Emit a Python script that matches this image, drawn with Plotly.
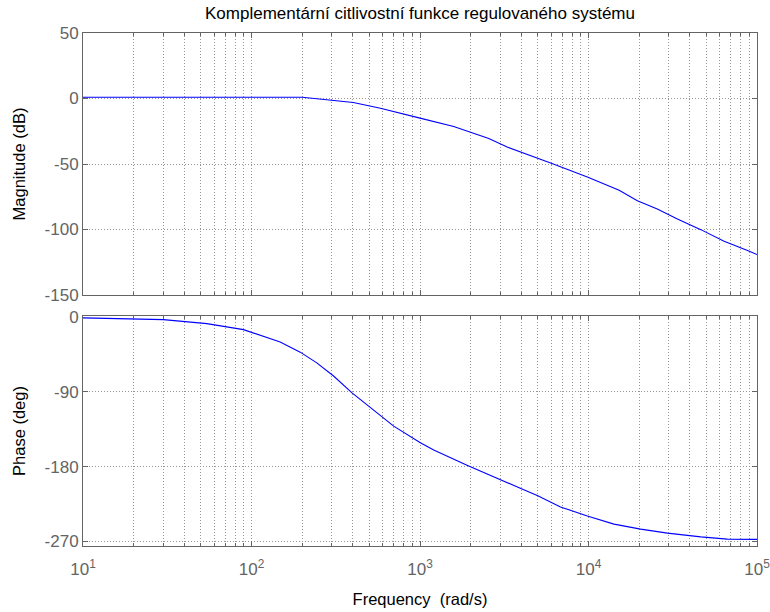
import plotly.graph_objects as go

# ---- data ----
mag_freq = [10, 200, 402, 582, 1000, 1585, 2560, 3290, 5960, 9840, 15200,
            19500, 25600, 33700, 46400, 63800, 87900, 100000]
mag_db = [1.0, 1.0, -3.1, -7.4, -15.0, -21.4, -30.6, -37.1, -49.3, -59.9, -70.1,
          -78.0, -84.3, -91.9, -100.1, -109.0, -116.1, -119.1]

ph_freq = [10, 19.9, 30, 54.3, 89.6, 148, 194.6, 244, 307, 395, 507, 698, 1005,
           1206, 1901, 2936, 4000, 5000, 6820, 9840, 14160, 20400, 29400, 46400,
           66700, 100000]
ph_deg = [-1.0, -2.0, -3.2, -8.0, -15.2, -30.0, -42.3, -55.2, -71.0, -91.2, -109.2,
          -131.3, -151.2, -160.1, -178.4, -194.4, -206.6, -215.0, -228.5, -239.3,
          -249.2, -255.2, -260.0, -264.5, -267.2, -267.5]

x_major = [10, 100, 1000, 10000, 100000]
x_major_text = ["10<sup>1</sup>", "10<sup>2</sup>", "10<sup>3</sup>",
                "10<sup>4</sup>", "10<sup>5</sup>"]
x_minor = [m * d for d in [10, 100, 1000, 10000] for m in range(2, 10)]

mag_ticks = [50, 0, -50, -100, -150]
mag_ticktext = ["50", "0", "-50", "-100", "-150"]
ph_ticks = [0, -90, -180, -270]
ph_ticktext = ["0", "-90", "-180", "-270"]

title_text = "Komplementární citlivostní funkce regulovaného systému"

FONT = "Liberation Sans, Arial, sans-serif"
AX = "rgb(100,100,100)"
GRID = "rgb(150,150,150)"
DOT = "1px,2px"

fig = go.Figure()
fig.add_trace(go.Scatter(x=mag_freq, y=mag_db, mode="lines",
                         line=dict(color="rgb(0,0,255)", width=1.1),
                         xaxis="x", yaxis="y", showlegend=False))
fig.add_trace(go.Scatter(x=ph_freq, y=ph_deg, mode="lines",
                         line=dict(color="rgb(0,0,255)", width=1.1),
                         xaxis="x2", yaxis="y2", showlegend=False))

H = 612
top, bottom = 33, 66
plot_h = H - top - bottom
mag_dom = [(546 - 295) / plot_h, 1.0]
ph_dom = [0.0, (546 - 316) / plot_h]

xcommon = dict(type="log", range=[1, 5], tickmode="array", tickvals=x_major,
               ticktext=x_major_text, showline=True, linecolor=AX, linewidth=1,
               mirror="ticks", ticks="inside", ticklen=5, tickcolor=AX,
               showgrid=True, gridcolor=GRID, griddash=DOT, gridwidth=1,
               zeroline=False, automargin=False, ticklabeloverflow="allow",
               minor=dict(tickmode="array", tickvals=x_minor, ticks="inside",
                          ticklen=3, tickcolor=AX, showgrid=True,
                          gridcolor=GRID, griddash=DOT, gridwidth=1),
               tickfont=dict(family=FONT, size=17, color=AX))

ycommon = dict(showline=True, linecolor=AX, linewidth=1, mirror="ticks",
               ticks="inside", ticklen=5, tickcolor=AX, showgrid=True,
               gridcolor=GRID, griddash=DOT, zeroline=False, automargin=False,
               tickmode="array", tickfont=dict(family=FONT, size=17, color=AX))

fig.update_layout(
    width=770, height=612,
    margin=dict(l=83, r=13, t=top, b=bottom),
    plot_bgcolor="white", paper_bgcolor="white",
    title=dict(text=title_text, x=0.5, xref="paper", y=1 - 13 / H,
               yanchor="middle", xanchor="center",
               font=dict(family=FONT, size=17, color="black")),
    xaxis=dict(**xcommon, anchor="y", showticklabels=False),
    xaxis2=dict(**xcommon, anchor="y2", showticklabels=True,
                ticklabelstandoff=8,
                title=dict(text="Frequency  (rad/s)", standoff=15,
                           font=dict(family=FONT, size=16.5, color="black"))),
    yaxis=dict(**ycommon, domain=mag_dom, range=[-150, 50],
               tickvals=mag_ticks, ticktext=mag_ticktext, anchor="x",
               title=dict(text="Magnitude (dB)", standoff=14,
                          font=dict(family=FONT, size=16.5, color="black"))),
    yaxis2=dict(**ycommon, domain=ph_dom, range=[-275.5, 1.2],
                tickvals=ph_ticks, ticktext=ph_ticktext, anchor="x2",
                title=dict(text="Phase (deg)", standoff=14,
                           font=dict(family=FONT, size=16.5, color="black"))),
)

fig.write_html("out.html")
